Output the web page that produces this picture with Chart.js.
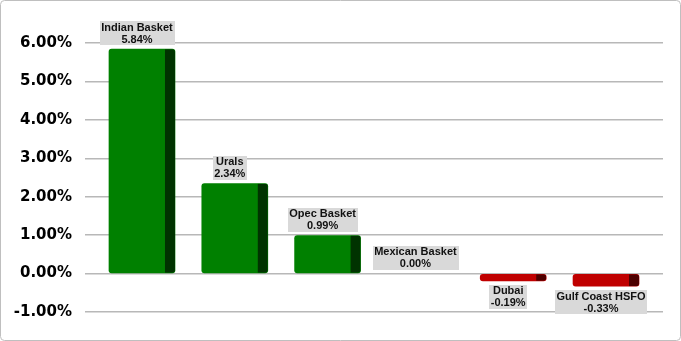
<!DOCTYPE html>
<html>
<head>
<meta charset="utf-8">
<script src="https://cdn.jsdelivr.net/npm/chart.js@4.4.1/dist/chart.umd.min.js"></script>
<style>
html,body{margin:0;padding:0;background:#fff;}
#wrap{width:681px;height:341px;}
</style>
</head>
<body>
<div id="wrap"><canvas id="c" width="681" height="341"></canvas></div>
<script>
const categories = ["Indian Basket", "Urals", "Opec Basket", "Mexican Basket", "Dubai", "Gulf Coast HSFO"];
const values = [5.84, 2.34, 0.99, 0.00, -0.19, -0.33];
const yTicks = [-1, 0, 1, 2, 3, 4, 5, 6];

const POS_FRONT = "#008000", POS_SIDE = "#003300";
const NEG_FRONT = "#c00000", NEG_SIDE = "#4d0000";
const SIDE_W = 10;

const sidePlugin = {
  id: 'side',
  afterDatasetsDraw(chart) {
    const ctx = chart.ctx;
    const meta = chart.getDatasetMeta(0);
    meta.data.forEach((el, i) => {
      const p = el.getProps(['x', 'y', 'base', 'width'], true);
      const left = p.x - p.width / 2, right = p.x + p.width / 2;
      const top = Math.min(p.y, p.base), bot = Math.max(p.y, p.base);
      const h = bot - top;
      if (h < 0.5) return;
      ctx.save();
      ctx.beginPath();
      ctx.roundRect(left, top, p.width, h, Math.min(3, h / 2));
      ctx.clip();
      ctx.fillStyle = values[i] >= 0 ? POS_SIDE : NEG_SIDE;
      ctx.fillRect(right - SIDE_W, top, SIDE_W, h);
      ctx.restore();
    });
  }
};

const labelPlugin = {
  id: 'boxes',
  afterDraw(chart) {
    const ctx = chart.ctx;
    const meta = chart.getDatasetMeta(0);
    ctx.save();
    ctx.font = "bold 11px 'Liberation Sans', Arial, sans-serif";
    ctx.textAlign = 'center';
    ctx.textBaseline = 'middle';
    meta.data.forEach((el, i) => {
      const p = el.getProps(['x', 'y', 'base'], true);
      const cx = p.x - SIDE_W / 2;
      const l1 = categories[i];
      const l2 = values[i].toFixed(2) + '%';
      const w = Math.max(ctx.measureText(l1).width, ctx.measureText(l2).width) + 3;
      const h = 24;
      let top;
      if (values[i] >= 0) top = Math.min(p.y, p.base) - 4 - h;
      else top = Math.max(p.y, p.base) + 4;
      ctx.fillStyle = '#d9d9d9';
      ctx.fillRect(Math.round(cx - w / 2), Math.round(top), Math.round(w), h);
      ctx.fillStyle = '#111';
      ctx.fillText(l1, cx, top + 6.5);
      ctx.fillText(l2, cx, top + 18.5);
    });
    ctx.restore();
  }
};

const framePlugin = {
  id: 'frame',
  afterDraw(chart) {
    const ctx = chart.ctx;
    ctx.save();
    ctx.strokeStyle = '#bfbfbf';
    ctx.lineWidth = 1;
    ctx.beginPath();
    ctx.roundRect(0.5, 0.5, 680, 340, 4);
    ctx.stroke();
    ctx.restore();
  }
};

new Chart(document.getElementById('c'), {
  type: 'bar',
  data: {
    datasets: [{
      data: values.map((v, i) => ({ x: i, y: v })),
      backgroundColor: values.map(v => v > 0 ? POS_FRONT : (v < 0 ? NEG_FRONT : 'rgba(0,0,0,0)')),
      barThickness: 66,
      borderRadius: 3,
      borderSkipped: false
    }]
  },
  options: {
    responsive: false,
    devicePixelRatio: 1,
    animation: false,
    layout: { padding: { top: 43, right: 18, bottom: 29, left: 0 } },
    plugins: { legend: { display: false }, tooltip: { enabled: false } },
    scales: {
      x: {
        type: 'linear',
        offset: false,
        min: -0.614,
        max: 5.614,
        display: false,
        grid: { offset: false }
      },
      y: {
        min: -1,
        max: 6,
        afterFit(scale) { scale.width = 85; },
        afterBuildTicks(scale) { scale.ticks = yTicks.map(v => ({ value: v })); },
        border: { display: false },
        grid: { color: '#b8b8b8', lineWidth: 1.5, drawTicks: false },
        ticks: {
          padding: 13,
          color: '#000',
          font: { family: "'DejaVu Sans', Verdana, sans-serif", weight: 'bold', size: 15 },
          callback: v => Number(v).toFixed(2) + '%'
        }
      }
    }
  },
  plugins: [sidePlugin, labelPlugin, framePlugin]
});
</script>
</body>
</html>
